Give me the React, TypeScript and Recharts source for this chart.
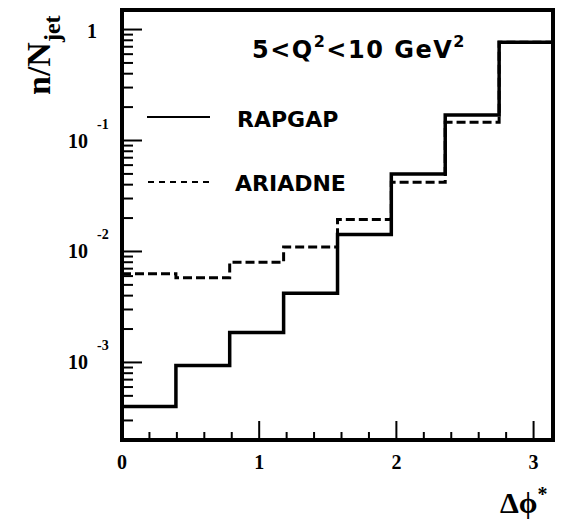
import React from 'react'
import { ComposedChart, Line, XAxis, YAxis, ReferenceArea } from 'recharts'

// bin edges in Δφ* (8 bins of π/8) and the per-bin fractions
const binEdges = [0, 0.393, 0.785, 1.178, 1.571, 1.963, 2.356, 2.749, 3.142]
const rapgap = [4.0e-4, 9.4e-4, 1.86e-3, 4.2e-3, 1.42e-2, 5.0e-2, 0.17, 0.77]
const ariadne = [6.3e-3, 5.8e-3, 8.0e-3, 1.1e-2, 1.94e-2, 4.2e-2, 0.146, 0.77]

const xTicks = [0, 0.2, 0.4, 0.6, 0.8, 1, 1.2, 1.4, 1.6, 1.8, 2, 2.2, 2.4, 2.6, 2.8, 3]
const xLabels = ['0', '1', '2', '3']
const decades = [1e-4, 1e-3, 1e-2, 1e-1, 1]
const multipliers = [1, 2, 3, 4, 5, 6, 7, 8, 9]

const Y_MIN = 2e-4
const Y_MAX = 1.5
const X_MAX = Math.PI

const W = 562
const H = 520
const LEFT = 122
const TOP = 10
const RIGHT = 9
const BOTTOM = 80
const PLOT_BOTTOM = H - BOTTOM

const yTicks = decades
  .flatMap(d => multipliers.map(m => +(d * m).toPrecision(3)))
  .filter(v => v >= Y_MIN && v <= 1)

// step histogram: one point per edge, last bin repeated at the upper edge
const data = binEdges.map((x, i) => {
  const k = Math.min(i, rapgap.length - 1)
  return { x, rapgap: rapgap[k], ariadne: ariadne[k] }
})

const serif = '"Liberation Serif", "Times New Roman", serif'
const sans = '"DejaVu Sans", Arial, sans-serif'

function YTick(props: any) {
  const { y, payload } = props
  const v = payload.value as number
  const lg = Math.log10(v)
  const exp = Math.round(lg)
  const major = Math.abs(lg - exp) < 1e-6
  return (
    <g>
      <line x1={LEFT} x2={LEFT + (major ? 20 : 11)} y1={y} y2={y} stroke="#000" strokeWidth={2} />
      {major && exp === 0 && (
        <text x={97} y={y + 8} textAnchor="end" fontFamily={serif} fontWeight="bold" fontSize={20} fill="#000">
          1
        </text>
      )}
      {major && exp !== 0 && (
        <g fontFamily={serif} fontWeight="bold" fill="#000">
          <text x={88} y={y + 7} textAnchor="end" fontSize={20}>10</text>
          <text x={97} y={y - 12} fontSize={14}>{`-${-exp}`}</text>
        </g>
      )}
    </g>
  )
}

function XTick(props: any) {
  const { x, payload } = props
  const v = payload.value as number
  const major = Number.isInteger(v)
  return (
    <g>
      <line x1={x} x2={x} y1={PLOT_BOTTOM} y2={PLOT_BOTTOM - (major ? 19 : 8)} stroke="#000" strokeWidth={2} />
      {major && (
        <text x={x} y={PLOT_BOTTOM + 29} textAnchor="middle" fontFamily={serif} fontWeight="bold" fontSize={20} fill="#000">
          {xLabels[v]}
        </text>
      )}
    </g>
  )
}

export default function App() {
  return (
    <div style={{ position: 'absolute', left: 0, top: 0, width: W, height: H, background: '#fff' }}>
      <ComposedChart width={W} height={H} data={data} margin={{ top: TOP, right: RIGHT, left: 0, bottom: 0 }}>
        <XAxis
          dataKey="x"
          type="number"
          domain={[0, X_MAX]}
          allowDataOverflow
          ticks={xTicks}
          interval={0}
          height={BOTTOM}
          axisLine={false}
          tickLine={false}
          tick={XTick}
        />
        <YAxis
          type="number"
          scale="log"
          domain={[Y_MIN, Y_MAX]}
          allowDataOverflow
          ticks={yTicks}
          interval={0}
          width={LEFT}
          axisLine={false}
          tickLine={false}
          tick={YTick}
        />
        <Line
          type="stepAfter"
          dataKey="ariadne"
          stroke="#000"
          strokeWidth={3}
          strokeDasharray="9 4"
          dot={false}
          isAnimationActive={false}
        />
        <Line
          type="stepAfter"
          dataKey="rapgap"
          stroke="#000"
          strokeWidth={3.5}
          dot={false}
          isAnimationActive={false}
        />
        <ReferenceArea x1={0} x2={X_MAX} y1={Y_MIN} y2={Y_MAX} fill="none" stroke="#000" strokeWidth={4} />

        {/* title and legend */}
        <g fill="#000" fontFamily={sans} fontWeight="bold">
          <text x={252} y={58} fontSize={24} letterSpacing={1.5}>
            5&lt;Q<tspan fontSize={16} dy={-11}>2</tspan>
            <tspan dy={11}>&lt;10 GeV</tspan>
            <tspan fontSize={16} dy={-11}>2</tspan>
          </text>
          <line x1={147} x2={210} y1={117} y2={117} stroke="#000" strokeWidth={2} />
          <text x={237} y={127} fontSize={22}>RAPGAP</text>
          <line x1={148} x2={210} y1={182} y2={182} stroke="#000" strokeWidth={2} strokeDasharray="6 5" />
          <text x={235} y={191} fontSize={22}>ARIADNE</text>
        </g>

        {/* axis titles */}
        <g fill="#000" fontFamily={serif} fontWeight="bold">
          <text transform="translate(50, 95) rotate(-90)" fontSize={34}>
            n/N<tspan fontSize={24} dy={10}>jet</tspan>
          </text>
          <text x={500} y={513} fontSize={30}>
            Δϕ<tspan fontSize={20} dy={-12}>*</tspan>
          </text>
        </g>
      </ComposedChart>
    </div>
  )
}
